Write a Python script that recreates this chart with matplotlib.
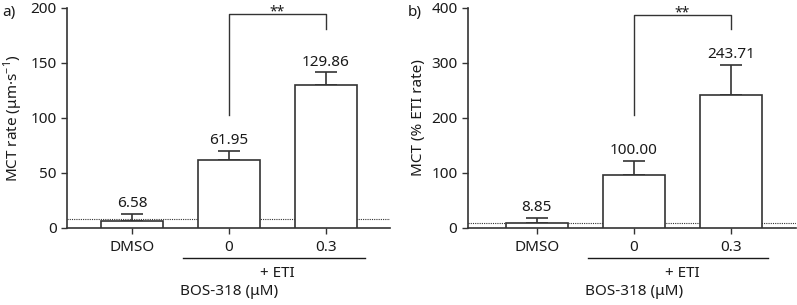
import numpy as np
import matplotlib
matplotlib.use("Agg")
import matplotlib.pyplot as plt
import matplotlib.transforms as mtransforms

plt.rcParams['font.family'] = ['Noto Sans', 'DejaVu Sans']
plt.rcParams['mathtext.fontset'] = 'custom'
plt.rcParams['mathtext.rm'] = 'Noto Sans'

# === DATA ===
categories = ["DMSO", "0", "0.3"]
rate_means = [6.58, 61.95, 129.86]
rate_errs = [6.0, 8.0, 11.5]
rate_baseline = 8.0
rate_bracket = [103, 194, 181]   # left foot, top, right foot

pct_means = [8.85, 97.0, 241.0]
pct_labels = ["8.85", "100.00", "243.71"]
pct_errs = [9.0, 25.0, 55.0]
pct_baseline = 9.0
pct_bracket = [205, 387, 362]

INK = "#333333"
TXT = "#1a1a1a"
FS = 11

fig = plt.figure(figsize=(7.97, 3.05), dpi=100)
ax_a = fig.add_axes([0.084, 0.2525, 0.405, 0.722])
ax_b = fig.add_axes([0.587, 0.2525, 0.412, 0.722])


def draw_panel(ax, means, errs, labels, ymax, yticks, baseline, bracket,
               ylabel, xlim, etixr, letter, lx):
    x = np.arange(len(means))
    ax.bar(x, means, width=0.64, color="white", edgecolor=INK, lw=1.2, zorder=3)
    ax.errorbar(x, means, yerr=[np.zeros(len(errs)), errs], fmt="none",
                ecolor=INK, elinewidth=1.2, capsize=8, capthick=1.2, zorder=2)
    for xi, m, e, lab in zip(x, means, errs, labels):
        ax.annotate(lab, (xi, m + e), xytext=(0, 2), textcoords="offset points",
                    ha="center", va="bottom", fontsize=FS, color=TXT)
    ax.axhline(baseline, ls=(0, (1, 1)), lw=0.8, color=INK, zorder=1)

    # significance bracket between "0" and "0.3"
    ax.plot([1, 1, 2, 2], [bracket[0], bracket[1], bracket[1], bracket[2]],
            color=INK, lw=1.0, clip_on=False)
    ax.annotate("**", (1.5, bracket[1]), xytext=(0, -1),
                textcoords="offset points", ha="center", va="baseline",
                fontsize=FS - 1, color=TXT)

    ax.set_xlim(xlim)
    ax.set_ylim(0, ymax)
    ax.set_yticks(yticks)
    ax.set_xticks(x)
    ax.set_xticklabels(categories)
    ax.tick_params(colors=INK, labelcolor=TXT, labelsize=FS, width=1.0, length=4)
    ax.tick_params(axis="x", pad=5)
    for s in ["top", "right"]:
        ax.spines[s].set_visible(False)
    for s in ["left", "bottom"]:
        ax.spines[s].set_color(INK)
        ax.spines[s].set_linewidth(1.2)
    ax.set_ylabel(ylabel, fontsize=FS, color=TXT, labelpad=4)

    trans = mtransforms.blended_transform_factory(ax.transData, ax.transAxes)
    ax.plot(etixr, [-0.136, -0.136], color=TXT, lw=1.0, transform=trans,
            clip_on=False)
    ax.text(1.5, -0.205, "+ ETI", transform=trans, ha="center", va="center",
            fontsize=FS, color=TXT)
    ax.text(1.0, -0.29, "BOS-318 (μM)", transform=trans, ha="center",
            va="center", fontsize=FS, color=TXT)
    fig.text(lx, 0.96, letter, ha="left", va="center", fontsize=FS, color=TXT)


draw_panel(ax_a, rate_means, rate_errs, ["6.58", "61.95", "129.86"], 200,
           [0, 50, 100, 150, 200], rate_baseline, rate_bracket,
           "MCT rate (μm·s$^{-1}$)", (-0.67, 2.66), [0.53, 2.40], "a)", 0.003)
draw_panel(ax_b, pct_means, pct_errs, pct_labels, 400,
           [0, 100, 200, 300, 400], pct_baseline, pct_bracket,
           "MCT (% ETI rate)", (-0.71, 2.67), [0.53, 2.38], "b)", 0.512)

fig.savefig("out.png", dpi=100)
